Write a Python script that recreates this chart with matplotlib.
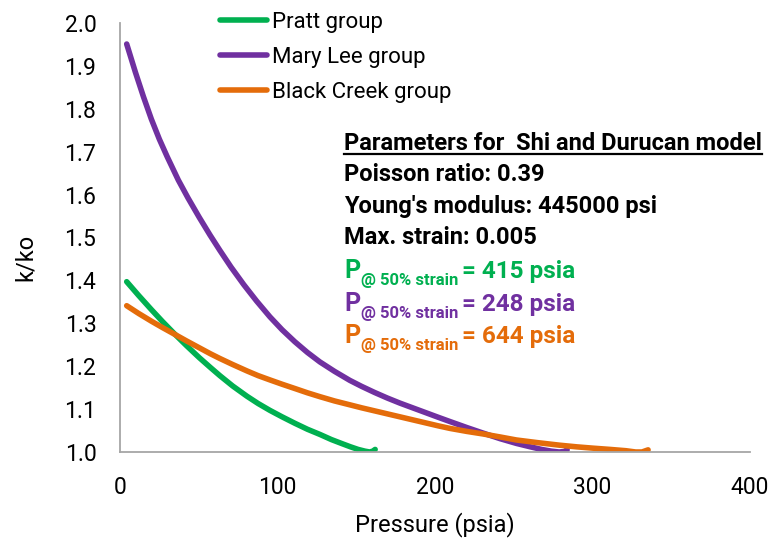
import matplotlib.pyplot as plt
from matplotlib.lines import Line2D

# data
pratt_p = [4.25, 11.8, 19.9, 27.0, 33.9, 42.2, 50.3, 57.4, 63.4, 71.5, 80.6, 87.7, 95.2,
           102.9, 111.0, 119.0, 126.9, 134.2, 141.3, 146.4, 151.2, 155.5, 158.5, 160.5, 162.0]
pratt_k = [1.397, 1.365, 1.332, 1.304, 1.278, 1.248, 1.220, 1.197, 1.178, 1.154, 1.130, 1.113,
           1.097, 1.082, 1.067, 1.053, 1.041, 1.029, 1.019, 1.012, 1.006, 1.002, 1.000, 1.002, 1.006]

mary_p = [4.25, 9.8, 14.9, 19.9, 25.0, 30.0, 37.0, 43.2, 50.3, 57.1, 63.4, 70.5, 78.6, 86.7,
          95.2, 102.9, 111.0, 119.0, 126.9, 136.2, 145.9, 153.4, 161.5, 169.6, 177.7, 185.8,
          193.9, 202.0, 209.5, 220.2, 230.6, 241.4, 251.7, 260.6, 267.7, 273.8, 278.8, 281.9, 283.9]
mary_k = [1.951, 1.885, 1.828, 1.776, 1.729, 1.688, 1.634, 1.592, 1.547, 1.506, 1.470, 1.431,
          1.390, 1.352, 1.315, 1.285, 1.257, 1.232, 1.210, 1.188, 1.167, 1.153, 1.139, 1.126,
          1.114, 1.103, 1.092, 1.081, 1.071, 1.057, 1.044, 1.031, 1.020, 1.012, 1.006, 1.002,
          1.000, 1.001, 1.005]

black_p = [4.25, 11.8, 19.9, 27.0, 33.9, 42.2, 50.3, 57.4, 63.4, 71.5, 80.6, 87.7, 95.2,
           102.9, 111.0, 119.0, 126.9, 136.2, 145.9, 153.4, 161.5, 169.6, 177.7, 185.8, 193.9,
           202.0, 209.5, 220.2, 230.6, 241.4, 251.7, 264.7, 278.8, 290.0, 300.1, 311.2, 321.2,
           327.4, 331.4, 335.3]
black_k = [1.341, 1.323, 1.305, 1.290, 1.276, 1.259, 1.243, 1.229, 1.218, 1.204, 1.189, 1.178,
           1.168, 1.158, 1.148, 1.138, 1.129, 1.119, 1.110, 1.103, 1.096, 1.089, 1.082, 1.075,
           1.068, 1.061, 1.055, 1.048, 1.042, 1.035, 1.028, 1.022, 1.016, 1.012, 1.009, 1.006,
           1.003, 1.000, 1.000, 1.005]

series_names = ["Pratt group", "Mary Lee group", "Black Creek group"]
p50 = ["415", "248", "644"]
params = ["Poisson ratio: 0.39", "Young's modulus: 445000 psi", "Max. strain: 0.005"]
title = "Parameters for  Shi and Durucan model"

colors = ["#00B050", "#7030A0", "#E46C0A"]
W, H = 774, 549
font = ["Roboto", "DejaVu Sans"]

fig = plt.figure(figsize=(W / 100, H / 100), dpi=100)
ax = fig.add_axes([120 / W, 1 - 452 / H, (750 - 120) / W, (452 - 23) / H])

lines = []
for p, k, c in zip([pratt_p, mary_p, black_p], [pratt_k, mary_k, black_k], colors):
    ln, = ax.plot(p, k, color=c, lw=4.0, solid_capstyle="round", solid_joinstyle="round")
    lines.append(ln)

ax.set_xlim(0, 400)
ax.set_ylim(1.0, 2.0)
ax.set_xticks([0, 100, 200, 300, 400])
ax.set_yticks([1.0 + 0.1 * i for i in range(11)])
ax.yaxis.set_major_formatter(plt.FuncFormatter(lambda v, _: f"{v:.1f}"))
for s in ["top", "right"]:
    ax.spines[s].set_visible(False)
for s in ["left", "bottom"]:
    ax.spines[s].set_color("#a6a6a6")
    ax.spines[s].set_linewidth(1.3)
ax.tick_params(length=0, pad=17, labelsize=16.5)
for lab in ax.get_xticklabels() + ax.get_yticklabels():
    lab.set_family(font)
ax.set_xlabel("Pressure (psia)", fontsize=17, family=font)
ax.set_ylabel("k/ko", fontsize=17, family=font)
ax.xaxis.set_label_coords(0.5, -(525 - 452) / (452 - 23))
ax.yaxis.set_label_coords(-(120 - 25) / (750 - 120), 1 - (257 - 23) / (452 - 23))
ax.xaxis.label.set_va("center")
ax.yaxis.label.set_va("center")

fig.legend(lines, series_names, loc="upper left", bbox_to_anchor=(220 / W, 1 - 12 / H),
           bbox_transform=fig.transFigure, frameon=False,
           prop={"family": font, "size": 16}, handlelength=2.1, handletextpad=0.25,
           labelspacing=0.62, borderpad=0, borderaxespad=0)


def fx(x):
    return x / W


def fy(y):
    return 1 - y / H


x0 = 344
t = fig.text(fx(x0), fy(150), title, fontsize=17, weight="bold", family=font, va="baseline")
fig.canvas.draw()
r = fig.canvas.get_renderer()
bb = t.get_window_extent(r)
fig.add_artist(Line2D([fx(bb.x0), fx(bb.x1)], [fy(153.5), fy(153.5)], color="black", lw=1.6))

for txt, base in zip(params, [181, 212.5, 244.5]):
    fig.text(fx(x0), fy(base), txt, fontsize=17, weight="bold", family=font, va="baseline")

for val, c, base in zip(p50, colors, [278, 311, 343]):
    x = x0
    a = fig.text(fx(x), fy(base), "P", fontsize=18, weight="bold", family=font,
                 va="baseline", color=c)
    x = a.get_window_extent(r).x1 + 1
    b = fig.text(x / W, fy(base + 7), "@ 50% strain", fontsize=12, weight="bold",
                 family=font, va="baseline", color=c)
    x = b.get_window_extent(r).x1 + 3
    fig.text(x / W, fy(base), "= " + val + " psia", fontsize=17.5, weight="bold",
             family=font, va="baseline", color=c)

fig.savefig("out.png", dpi=100)
